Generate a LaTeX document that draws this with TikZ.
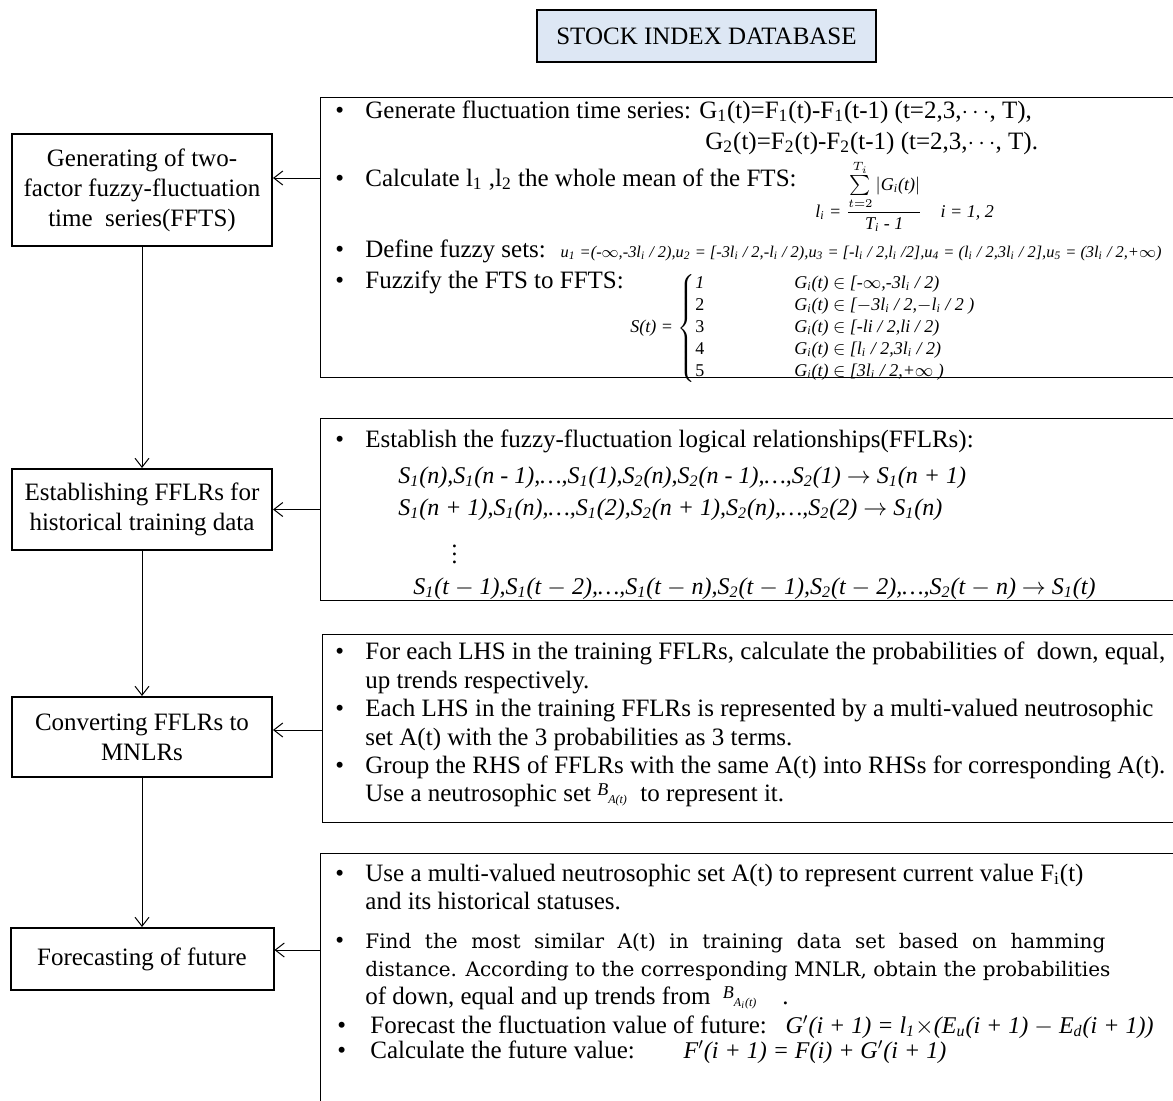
\documentclass[tikz,border=0pt]{standalone}
\usepackage{fontspec}
\setmainfont{Liberation Serif}
\newfontfamily\widefont{DejaVu Serif}
\usetikzlibrary{arrows.meta}
\definecolor{dbblue}{RGB}{221,231,244}

\begin{document}
\begin{tikzpicture}[x=0.5pt,y=-0.5pt,
  stepbox/.style={draw,line width=1pt,minimum width=130pt,align=center,inner sep=2pt,font=\fontsize{12.5}{15}\selectfont},
  infobox/.style={draw,line width=0.6pt,anchor=north west,minimum width=440pt},
  txtline/.style={anchor=base west,inner sep=0pt,font=\fontsize{12.5}{15}\selectfont},
  eqline/.style={anchor=base west,inner sep=0pt,font=\fontsize{12}{14}\selectfont\itshape},
  smalleq/.style={inner sep=0pt,font=\fontsize{9}{11}\selectfont\itshape},
  flow/.style={-{Straight Barb[length=4.5pt,width=7pt]},line width=0.5pt}]
\useasboundingbox (0,0) rectangle (1173,1100);
\clip (0,0) rectangle (1173,1100);

\node[draw,fill=dbblue,line width=0.6pt,minimum width=169.5pt,minimum height=26pt,font=\fontsize{12.5}{15}\selectfont] (db) at (706.5,36) {STOCK INDEX DATABASE};

\node[stepbox,minimum height=56pt] (gen) at (142,190) {Generating of two-\\factor fuzzy-fluctuation\\time\ \ series(FFTS)};
\node[stepbox,minimum height=40.5pt] (est) at (142,509.5) {Establishing FFLRs for\\historical training data};
\node[stepbox,minimum height=40pt] (conv) at (142,737) {Converting FFLRs to\\MNLRs};
\node[stepbox,minimum width=131.5pt,minimum height=31pt] (fore) at (142,959) {Forecasting of future};

\node[infobox,minimum height=140pt] (genbox) at (320,97) {};
\node[infobox,minimum height=91pt] (estbox) at (320,418) {};
\node[infobox,minimum height=94pt] (convbox) at (322,634) {};
\node[infobox,minimum height=140pt] (forebox) at (320,853) {};

\draw[flow] (gen) -- (est);
\draw[flow] (est) -- (conv);
\draw[flow] (conv) -- (fore);
\coordinate (genin) at ([yshift=6pt]gen.east);
\draw[flow] (genin -| genbox.west) -- (genin);
\draw[flow] (est.east -| estbox.west) -- (est.east);
\coordinate (convin) at ([yshift=3.5pt]conv.east);
\draw[flow] (convin -| convbox.west) -- (convin);
\coordinate (forein) at ([yshift=4.5pt]fore.east);
\draw[flow] (forein -| forebox.west) -- (forein);

\node[txtline] (b1) at (335,118) {\textbullet};
\node[txtline] (g1) at (365,118) {Generate fluctuation time series: G\textsubscript{1}(t)=F\textsubscript{1}(t)-F\textsubscript{1}(t-1) (t=2,3,$\cdots$, T),};
\node[txtline] (g2) at (705,149) {G\textsubscript{2}(t)=F\textsubscript{2}(t)-F\textsubscript{2}(t-1) (t=2,3,$\cdots$, T).};
\node[txtline] (b2) at (335,186) {\textbullet};
\node[txtline] (l1) at (365,186) {Calculate l\textsubscript{1} ,l\textsubscript{2} the whole mean of the FTS:};
\node[smalleq,anchor=west] (lmean) at (815,196) {l\textsubscript{i} = $\displaystyle\frac{\sum\limits_{t=2}^{T_i}|\textit{G\textsubscript{i}(t)}|}{\textit{T\textsubscript{i} - 1}}$\quad i = 1, 2};
\node[txtline] (b3) at (335,257) {\textbullet};
\node[txtline] (fz) at (365,257) {Define fuzzy sets:};
\node[smalleq,anchor=base west,font=\fontsize{8.2}{10}\selectfont\itshape] (us) at ([xshift=7pt]fz.base east) {u\textsubscript{1} =(-$\infty$,-3l\textsubscript{i} / 2),u\textsubscript{2} = [-3l\textsubscript{i} / 2,-l\textsubscript{i} / 2),u\textsubscript{3} = [-l\textsubscript{i} / 2,l\textsubscript{i} /2],u\textsubscript{4} = (l\textsubscript{i} / 2,3l\textsubscript{i} / 2],u\textsubscript{5} = (3l\textsubscript{i} / 2,+$\infty$)};
\node[txtline] (b4) at (335,288) {\textbullet};
\node[txtline] (ff) at (365,288) {Fuzzify the FTS to FFTS:};
\node[smalleq,anchor=west] (st) at (630,328) {S(t) = $\left\{\begin{tabular}{@{}l@{\hspace{45pt}}l@{}}
  1 & G\textsubscript{i}(t) $\in$ [-$\infty$,-3l\textsubscript{i} / 2)\\
  \textup{2} & G\textsubscript{i}(t) $\in$ [$-$3l\textsubscript{i} / 2,$-$l\textsubscript{i} / 2 )\\
  \textup{3} & G\textsubscript{i}(t) $\in$ [-li / 2,li / 2)\\
  \textup{4} & G\textsubscript{i}(t) $\in$ [l\textsubscript{i} / 2,3l\textsubscript{i} / 2)\\
  \textup{5} & G\textsubscript{i}(t) $\in$ [3l\textsubscript{i} / 2,+$\infty$ )
  \end{tabular}\right.$};

\node[txtline] (b5) at (335,447) {\textbullet};
\node[txtline] (fl) at (365,447) {Establish the fuzzy-fluctuation logical relationships(FFLRs):};
\node[eqline] (r1) at (398,483) {S\textsubscript{1}(n),S\textsubscript{1}(n - 1),\ldots,S\textsubscript{1}(1),S\textsubscript{2}(n),S\textsubscript{2}(n - 1),\ldots,S\textsubscript{2}(1) $\rightarrow$ S\textsubscript{1}(n + 1)};
\node[eqline] (r2) at (398,515) {S\textsubscript{1}(n + 1),S\textsubscript{1}(n),\ldots,S\textsubscript{1}(2),S\textsubscript{2}(n + 1),S\textsubscript{2}(n),\ldots,S\textsubscript{2}(2) $\rightarrow$ S\textsubscript{1}(n)};
\node[eqline,anchor=center] (r3) at (455,548) {$\vdots$};
\node[eqline] (r4) at (413,594) {S\textsubscript{1}(t $-$ 1),S\textsubscript{1}(t $-$ 2),\ldots,S\textsubscript{1}(t $-$ n),S\textsubscript{2}(t $-$ 1),S\textsubscript{2}(t $-$ 2),\ldots,S\textsubscript{2}(t $-$ n) $\rightarrow$ S\textsubscript{1}(t)};

\node[txtline] (b6) at (335,659) {\textbullet};
\node[txtline] (c1) at (365,659) {For each LHS in the training FFLRs, calculate the probabilities of\ \ down, equal,};
\node[txtline] (c2) at (365,688) {up trends respectively.};
\node[txtline] (b7) at (335,716) {\textbullet};
\node[txtline] (c3) at (365,716) {Each LHS in the training FFLRs is represented by a multi-valued neutrosophic};
\node[txtline] (c4) at (365,745) {set A(t) with the 3 probabilities as 3 terms.};
\node[txtline] (b8) at (335,773) {\textbullet};
\node[txtline] (c5) at (365,773) {Group the RHS of FFLRs with the same A(t) into RHSs for corresponding A(t).};
\node[txtline] (c6) at (365,801) {Use a neutrosophic set {\fontsize{9}{10}\selectfont\itshape\raisebox{3pt}{B}\textsubscript{A(t)}}\ \ to represent it.};

\node[txtline] (b9) at (335,881) {\textbullet};
\node[txtline] (f1) at (365,881) {Use a multi-valued neutrosophic set A(t) to represent current value F\textsubscript{i}(t)};
\node[txtline] (f2) at (365,909) {and its historical statuses.};
\node[txtline] (b10) at (335,948) {\textbullet};
\node[txtline,font=\widefont\fontsize{10}{12}\selectfont] (f3) at (365,948) {\makebox[370pt][s]{Find the most similar A(t) in training data set based on hamming}};
\node[txtline,font=\widefont\fontsize{10}{12}\selectfont] (f4) at (365,976) {distance. According to the corresponding MNLR, obtain the probabilities};
\node[txtline] (f5) at (365,1004) {of down, equal and up trends from\ \ {\fontsize{9}{10}\selectfont\itshape\raisebox{3pt}{B}\textsubscript{A\textsubscript{i}(t)}}\ \ \ \ .};
\node[txtline] (b11) at (337,1033) {\textbullet};
\node[txtline] (f6) at (370,1033) {Forecast the fluctuation value of future:};
\node[eqline] (f6eq) at ([xshift=9pt]f6.base east) {G$'$(i + 1) = l\textsubscript{1}$\times$(E\textsubscript{u}(i + 1) $-$ E\textsubscript{d}(i + 1))};
\node[txtline] (b12) at (337,1058) {\textbullet};
\node[txtline] (f7) at (370,1058) {Calculate the future value:};
\node[eqline] (f7eq) at ([xshift=24pt]f7.base east) {F$'$(i + 1) = F(i) + G$'$(i + 1)};
\end{tikzpicture}
\end{document}
